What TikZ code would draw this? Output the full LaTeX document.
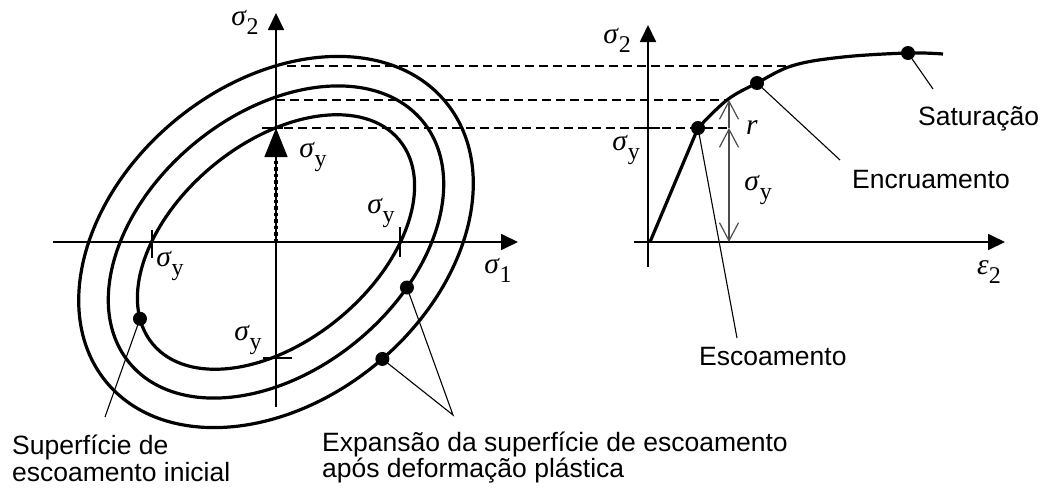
\documentclass[tikz,border=0pt]{standalone}
\usepackage{fontspec}
\setmainfont{Liberation Sans}
\newfontfamily\tms{Liberation Serif}
\usetikzlibrary{arrows.meta}
\newcommand\gsub[2]{{\tms\fontsize{29.5}{29.5}\selectfont\textit{#1}\raisebox{-0.3em}{\fontsize{24}{24}\selectfont #2}}}
\begin{document}
\begin{tikzpicture}[x=1pt,y=-1pt,
  ring/.style={line width=3.2pt},
  ax/.style={line width=1.8pt,-{Triangle[length=17pt,width=16pt]}},
  guide/.style={line width=1.2pt, dash pattern=on 9pt off 5pt},
  leader/.style={line width=1.1pt},
  pdot/.style={circle, fill, inner sep=0pt, minimum size=14pt},
  lbl/.style={font=\fontsize{26.5}{26.5}\selectfont, inner sep=0pt, anchor=base west},
  sym/.style={inner sep=0pt},
  dimline/.style={line width=1.2pt, draw=black!70},
  tickmark/.style={line width=1.5pt},
  barb/.tip={Straight Barb[length=18pt,width=19pt]}]
\useasboundingbox (0,0) rectangle (1044,488);

% ---------- left diagram ----------
\coordinate (O) at (276,242);
\coordinate (t1) at (276,128);
\coordinate (t2) at (276,100);
\coordinate (t3) at (276,66);

\draw[ax] (53,242) -- (518,242);
\draw[ax] (276,407) -- (276,13);

\begin{scope}[shift={(276,242)}, rotate=39.5]
  \draw[ring] (0,0) ellipse [x radius=160, y radius=99];
  \draw[ring] (0,0) ellipse [x radius=190, y radius=128];
  \draw[ring] (0,0) ellipse [x radius=220, y radius=158];
  \coordinate (c1) at (196:160 and 99);
  \coordinate (c2) at (67.7:190 and 128);
  \coordinate (c3) at (88:220 and 158);
\end{scope}

% ticks
\draw[tickmark] (152,230) -- (152,258);
\draw[tickmark] (400,227) -- (400,257);
\draw[tickmark] (263,358) -- (292,358);
\draw[tickmark] (262,128) -- (283,128);

% dotted arrow
\draw[line width=1.4pt, -{Triangle[length=29pt,width=23pt]}] (O) -- (t1);
\draw[line width=4pt, dash pattern=on 3.5pt off 3pt] (O) -- (276,160);

% ---------- right diagram ----------
\coordinate (R0) at (650,242);
\coordinate (r0) at (729,242);
\coordinate (r1) at (729,128);
\coordinate (r2) at (729,100);
\coordinate (k3) at (793,66);

\draw[ax] (634,242) -- (1005,242);
\draw[ax] (648,267) -- (648,25);
\draw[tickmark] (637,128) -- (660,128);

\draw[ring, line join=round] (R0) -- plot[smooth, tension=0.6] coordinates {(698,128) (727,100) (757,83) (793,65.5) (843,57) (908,53) (943,54)};

% dashed guides
\draw[guide] (284,128) -- (r1);
\draw[guide] (t2) -- (r2);
\draw[guide] (287,66) -- (k3);

% dimension arrows
\draw[dimline, barb-barb] (r0) -- (r1);
\draw[dimline, -barb] (r1) -- (r2);

% leaders
\coordinate (eL) at (105,417);
\coordinate (eE) at (453,415);
\draw[leader] (c1) -- (eL);
\draw[leader] (c2) -- (eE) -- (c3);
\draw[leader] (698,128) -- (737,338);
\draw[leader] (757,83) -- (840,160);
\draw[leader] (908,53) -- (933,89);

% dots
\node[pdot] (d1) at (c1) {};
\node[pdot] (d2) at (c2) {};
\node[pdot] (d3) at (c3) {};
\node[pdot] (py) at (698,128) {};
\node[pdot] (pe) at (757,83) {};
\node[pdot] (ps) at (908,53) {};

% symbol labels
\node[sym] (s2L) at (245,22) {\gsub{σ}{2}};
\node[sym] (s1) at (498,270) {\gsub{σ}{1}};
\node[sym] (sy1) at (313,157) {\gsub{σ}{y}};
\node[sym] (sy2) at (381,213) {\gsub{σ}{y}};
\node[sym] (sy3) at (170,266) {\gsub{σ}{y}};
\node[sym] (sy4) at (248,340) {\gsub{σ}{y}};
\node[sym] (s2R) at (617,40) {\gsub{σ}{2}};
\node[sym] (e2) at (989,272) {\gsub{ε}{2}};
\node[sym] (sy5) at (626,150) {\gsub{σ}{y}};
\node[sym] (rr) at (752,128) {{\tms\fontsize{29.5}{29.5}\selectfont\textit{r}}};
\node[sym] (sy6) at (758,190) {\gsub{σ}{y}};

% text labels
\node[lbl] (tS1) at (12,454) {Superfície de};
\node[lbl] (tS2) at (12,481) {escoamento inicial};
\node[lbl] (tE1) at (322,451) {Expansão da superfície de escoamento};
\node[lbl] (tE2) at (322,477) {após deformação plástica};
\node[lbl] (tSat) at (918,125) {Saturação};
\node[lbl] (tEnc) at (852,188) {Encruamento};
\node[lbl] (tEsc) at (699,365) {Escoamento};
\end{tikzpicture}
\end{document}
